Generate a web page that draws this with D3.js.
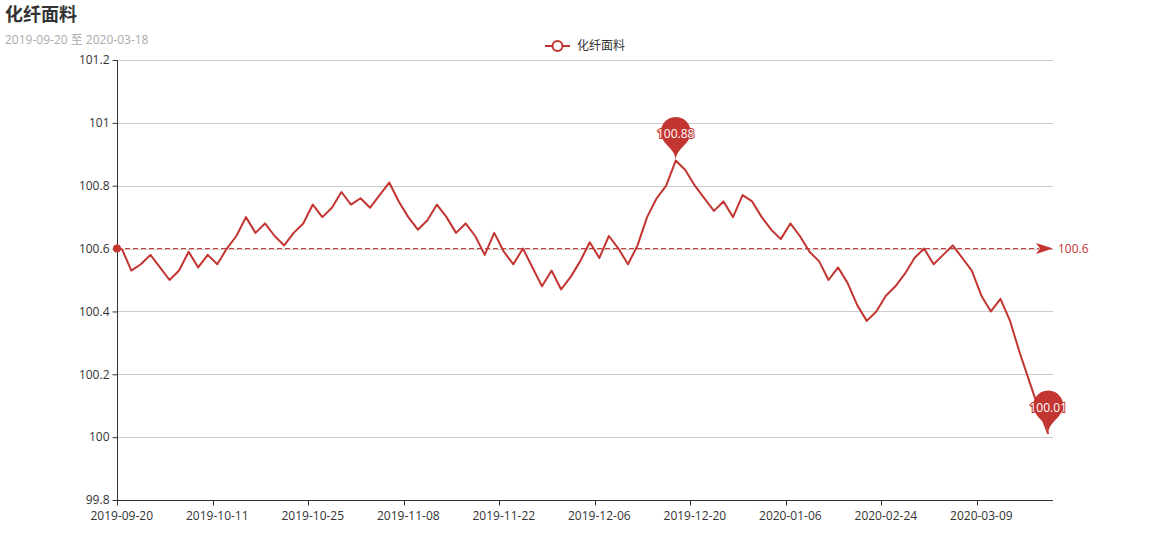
<!DOCTYPE html>
<html><head><meta charset="utf-8">
<script src="https://cdn.jsdelivr.net/npm/d3@7/dist/d3.min.js"></script>
<style>
html,body{margin:0;padding:0;background:#fff;}
svg{display:block;}
text{font-family:"Open Sans","Noto Sans CJK SC",sans-serif;}
</style></head>
<body>
<svg id="chart" width="1170" height="560"></svg>
<script>
const titleText = "化纤面料";
const subtitleText = "2019-09-20 至 2020-03-18";
const seriesName = "化纤面料";
const dates = [
"2019-09-20","2019-09-23","2019-09-24","2019-09-25","2019-09-26","2019-09-27","2019-09-30","2019-10-08","2019-10-09","2019-10-10",
"2019-10-11","2019-10-14","2019-10-15","2019-10-16","2019-10-17","2019-10-18","2019-10-21","2019-10-22","2019-10-23","2019-10-24",
"2019-10-25","2019-10-28","2019-10-29","2019-10-30","2019-10-31","2019-11-01","2019-11-04","2019-11-05","2019-11-06","2019-11-07",
"2019-11-08","2019-11-11","2019-11-12","2019-11-13","2019-11-14","2019-11-15","2019-11-18","2019-11-19","2019-11-20","2019-11-21",
"2019-11-22","2019-11-25","2019-11-26","2019-11-27","2019-11-28","2019-11-29","2019-12-02","2019-12-03","2019-12-04","2019-12-05",
"2019-12-06","2019-12-09","2019-12-10","2019-12-11","2019-12-12","2019-12-13","2019-12-16","2019-12-17","2019-12-18","2019-12-19",
"2019-12-20","2019-12-23","2019-12-24","2019-12-25","2019-12-26","2019-12-27","2019-12-30","2019-12-31","2020-01-02","2020-01-03",
"2020-01-06","2020-01-07","2020-01-08","2020-01-09","2020-01-10","2020-01-13","2020-01-14","2020-01-15","2020-01-16","2020-01-17",
"2020-02-24","2020-02-25","2020-02-26","2020-02-27","2020-02-28","2020-03-02","2020-03-03","2020-03-04","2020-03-05","2020-03-06",
"2020-03-09","2020-03-10","2020-03-11","2020-03-12","2020-03-13","2020-03-16","2020-03-17","2020-03-18"
];
const values = [
100.60,100.53,100.55,100.58,100.54,100.50,100.53,100.59,100.54,100.58,
100.55,100.60,100.64,100.70,100.65,100.68,100.64,100.61,100.65,100.68,
100.74,100.70,100.73,100.78,100.74,100.76,100.73,100.77,100.81,100.75,
100.70,100.66,100.69,100.74,100.70,100.65,100.68,100.64,100.58,100.65,
100.59,100.55,100.60,100.54,100.48,100.53,100.47,100.51,100.56,100.62,
100.57,100.64,100.60,100.55,100.61,100.70,100.76,100.80,100.88,100.85,
100.80,100.76,100.72,100.75,100.70,100.77,100.75,100.70,100.66,100.63,
100.68,100.64,100.59,100.56,100.50,100.54,100.49,100.42,100.37,100.40,
100.45,100.48,100.52,100.57,100.60,100.55,100.58,100.61,100.57,100.53,
100.45,100.40,100.44,100.37,100.27,100.18,100.09,100.01
];
const yTicks = [99.8,100,100.2,100.4,100.6,100.8,101,101.2];
const averageLine = [100.6];
const xLabelEvery = 10;

const color = "#c23531";
const svg = d3.select("#chart");
const gLeft = 117, gRight = 1053, gTop = 60, gBottom = 500;

const x = d3.scaleBand().domain(dates).range([gLeft, gRight]).padding(0);
const bw = x.bandwidth();
const cx = d => x(d) + bw / 2;
const y = d3.scaleLinear().domain([99.8, 101.2]).range([gBottom, gTop]);

// title
svg.append("text").attr("x", 5).attr("y", 21).attr("font-size", 18).attr("font-weight", "bold")
  .attr("fill", "#333").style("font-family", "'Noto Sans CJK SC',sans-serif").text(titleText);
svg.append("text").attr("x", 5).attr("y", 44).attr("font-size", 12).attr("fill", "#aaa").text(subtitleText);

// legend
const lg = svg.append("g");
lg.append("line").attr("x1", 545).attr("x2", 570).attr("y1", 46).attr("y2", 46).attr("stroke", color).attr("stroke-width", 2);
lg.append("circle").attr("cx", 557.5).attr("cy", 46).attr("r", 5).attr("fill", "#fff").attr("stroke", color).attr("stroke-width", 2);
lg.append("text").attr("x", 577).attr("y", 46).attr("dy", "0.35em").attr("font-size", 12).attr("fill", "#333")
  .style("font-family", "'Noto Sans CJK SC',sans-serif").text(seriesName);

// grid lines
svg.append("g").selectAll("line").data(yTicks.filter(t => t !== 99.8)).join("line")
  .attr("x1", gLeft).attr("x2", gRight).attr("y1", d => Math.round(y(d)) + 0.5).attr("y2", d => Math.round(y(d)) + 0.5)
  .attr("stroke", "#ccc").attr("stroke-width", 1);

// y axis
const yAxis = d3.axisLeft(y).tickValues(yTicks).tickSize(5).tickPadding(3).tickFormat(d => String(+d.toFixed(1)));
const yg = svg.append("g").attr("transform", `translate(${gLeft + 0.5},0)`).call(yAxis);
yg.select(".domain").attr("stroke", "#333").attr("d", `M0,${gBottom}V${gTop}`);
yg.selectAll(".tick line").attr("stroke", "#333");
yg.selectAll(".tick text").attr("fill", "#333").attr("font-size", 12).style("font-family", "'Open Sans',sans-serif");

// x axis
const tickDates = dates.filter((d, i) => i % xLabelEvery === 0);
const xg = svg.append("g").attr("transform", `translate(0,${gBottom + 0.5})`);
xg.append("line").attr("x1", gLeft).attr("x2", gRight).attr("y1", 0).attr("y2", 0).attr("stroke", "#333");
xg.selectAll("line.tk").data(tickDates).join("line").attr("class", "tk")
  .attr("x1", d => Math.round(x(d)) + 0.5).attr("x2", d => Math.round(x(d)) + 0.5).attr("y1", 0).attr("y2", 5).attr("stroke", "#333");
xg.selectAll("text").data(tickDates).join("text")
  .attr("x", d => cx(d)).attr("y", 19).attr("text-anchor", "middle").attr("font-size", 12).attr("fill", "#333").text(d => d);

// average markLine
const avg = averageLine[0];
const ay = y(avg);
svg.append("line").attr("x1", gLeft).attr("x2", gRight - 14).attr("y1", ay).attr("y2", ay)
  .attr("stroke", color).attr("stroke-width", 1).attr("stroke-dasharray", "5,3");
svg.append("circle").attr("cx", gLeft).attr("cy", ay).attr("r", 4).attr("fill", color);
svg.append("path").attr("d", `M${gRight},${ay}L${gRight-17},${ay-5.5}L${gRight-13},${ay}L${gRight-17},${ay+5.5}Z`).attr("fill", color);
svg.append("text").attr("x", gRight + 5).attr("y", ay).attr("dy", "0.35em").attr("font-size", 12).attr("fill", color).text(String(avg));

// line
const line = d3.line().x((d, i) => cx(dates[i])).y(d => y(d));
svg.append("path").datum(values).attr("d", line).attr("fill", "none").attr("stroke", color)
  .attr("stroke-width", 2).attr("stroke-linejoin", "round");

// mark points (max/min) with pin symbols
function pinPath(px, py, w, h) {
  const ww = w / 5 * 3, hh = Math.max(ww, h), r = ww / 2;
  const dy = r * r / (hh - r);
  const ccy = py - hh + r + dy;
  const ang = Math.asin(dy / r);
  const dx = Math.cos(ang) * r;
  const tanX = Math.sin(ang), tanY = Math.cos(ang);
  const c1 = r * 0.6, c2 = r * 0.7;
  const p = d3.path();
  p.moveTo(px - dx, ccy + dy);
  p.arc(px, ccy, r, Math.PI - ang, Math.PI * 2 + ang);
  p.bezierCurveTo(px + dx - tanX * c1, ccy + dy + tanY * c1, px, py - c2, px, py);
  p.bezierCurveTo(px, py - c2, px - dx + tanX * c1, ccy + dy + tanY * c1, px - dx, ccy + dy);
  p.closePath();
  return {d: p.toString(), cy: ccy};
}
const maxI = values.indexOf(d3.max(values));
const minI = values.indexOf(d3.min(values));
[maxI, minI].forEach(i => {
  const px = cx(dates[i]), py = y(values[i]);
  const pp = pinPath(px, py, 50, 50);
  svg.append("path").attr("d", pp.d).attr("fill", color);
  svg.append("text").attr("x", px).attr("y", pp.cy + 2).attr("dy", "0.35em").attr("text-anchor", "middle")
    .attr("font-size", 12).attr("fill", "#fff").attr("stroke", color).attr("stroke-width", 2)
    .attr("paint-order", "stroke").text(values[i].toFixed(2));
});
</script>
</body></html>
